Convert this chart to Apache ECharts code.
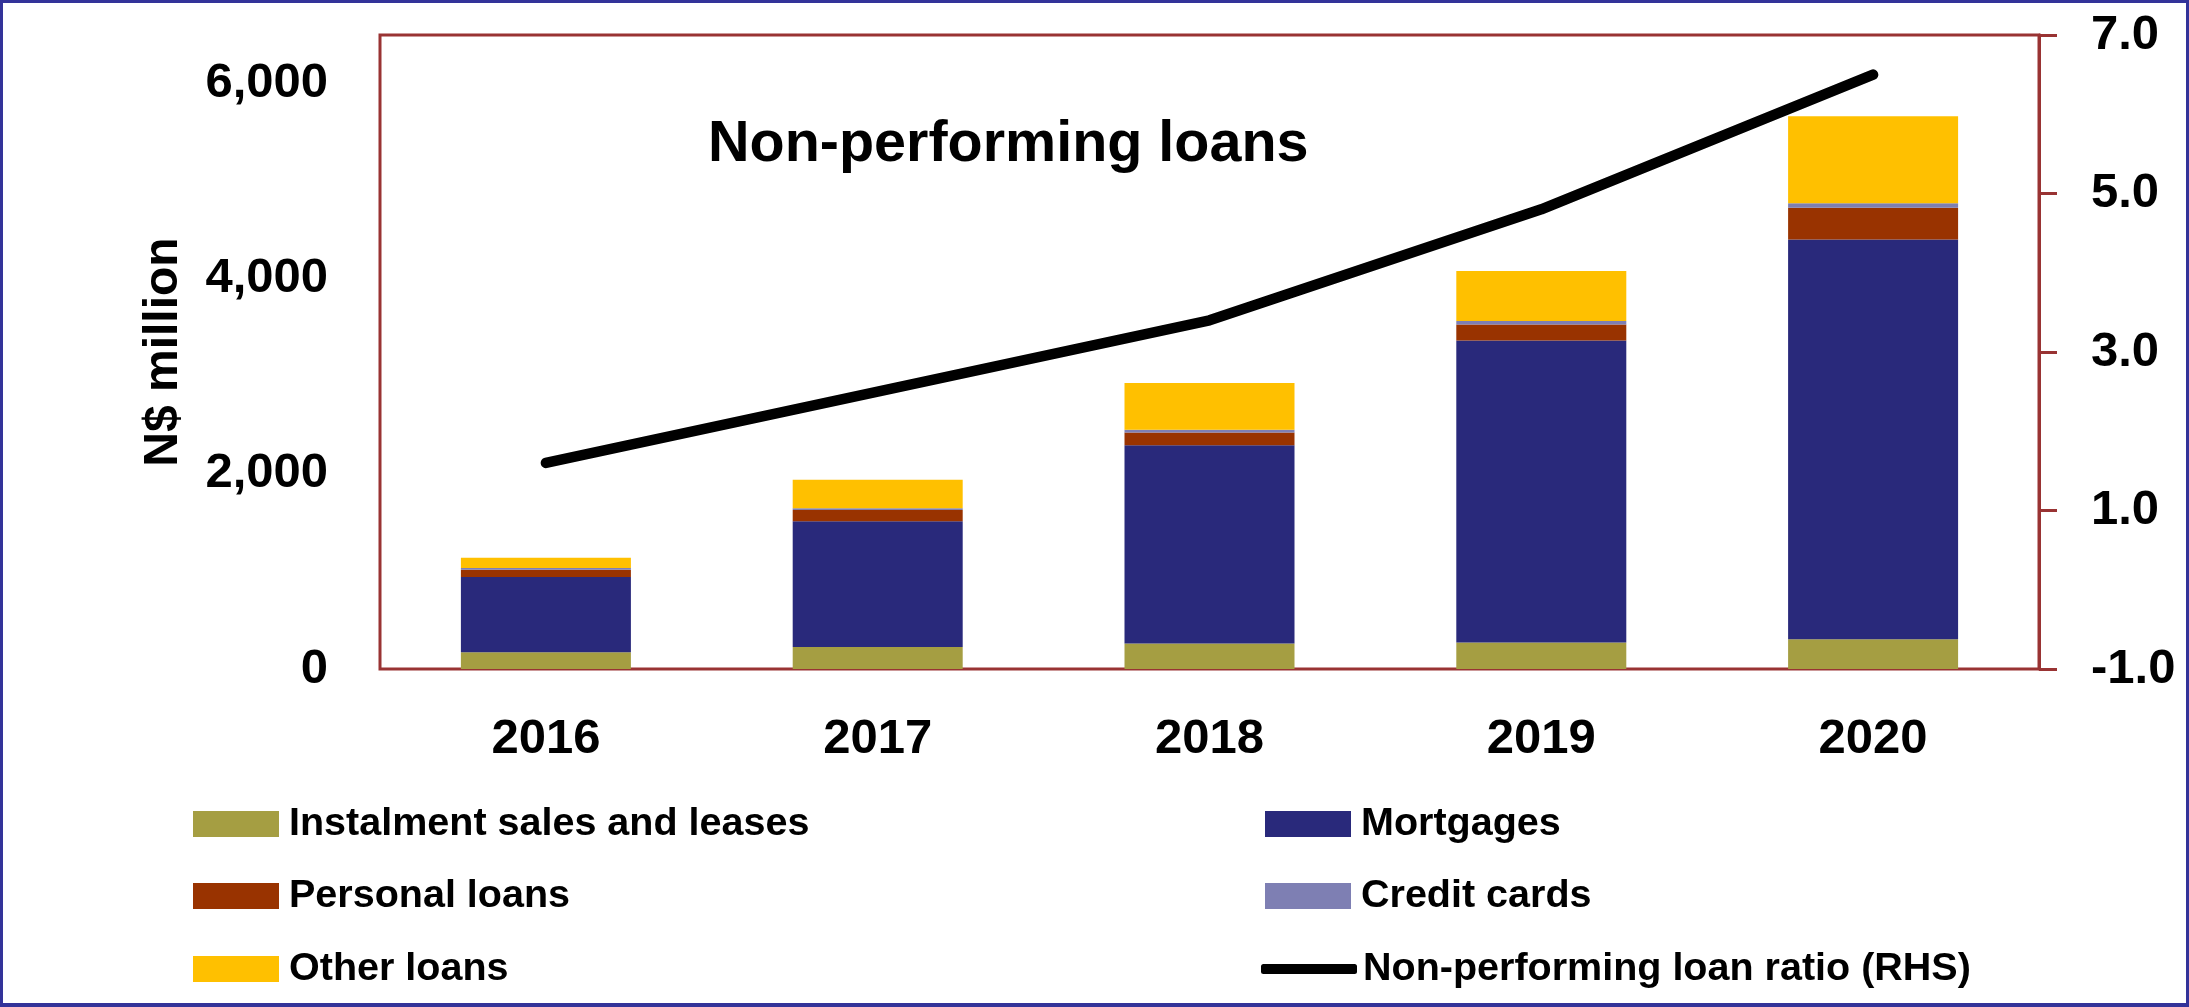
<!DOCTYPE html>
<html style="height: 100%">
<head>
<meta charset="utf-8">
<title>Non-performing loans</title>
<script src="https://cdn.jsdelivr.net/npm/echarts@6/dist/echarts.min.js"></script>
</head>
<body style="height: 100%; margin: 0; background: #fff">
	<div id="container" style="position: absolute; left: 0; top: 0; width: 2189px; height: 1007px"></div>
	<div style="position: absolute; left: 0; top: 0; width: 2189px; height: 1007px; box-sizing: border-box; border: 3px solid #333399; border-bottom-width: 4px; pointer-events: none"></div>
	<script type="text/javascript">
		// data
		var years = ['2016', '2017', '2018', '2019', '2020'];
		var instalment = [171, 226, 262, 271, 304];
		var mortgages = [773, 1289, 2031, 3096, 4100];
		var personal = [73, 114, 132, 164, 325];
		var creditCards = [18, 19, 27, 37, 46];
		var otherLoans = [106, 292, 481, 512, 891];
		var nplRatio = [1.6, 2.5, 3.4, 4.8, 6.5];
		var leftTicks = [0, 2000, 4000, 6000];
		var rightTicks = [-1, 1, 3, 5, 7];

		var myChart = echarts.init(document.getElementById('container'));

		var font = 'Liberation Sans, Arial, sans-serif';
		var frameColor = '#993333';

		// one legend per entry so every row sits where the picture has it
		function legendAt(name, left, top, icon, w, h, gap) {
			return {
				data : [ { name : name, icon : icon } ],
				left : left,
				top : top,
				padding : 0,
				itemWidth : w,
				itemHeight : h,
				selectedMode : false,
				textStyle : {
					fontFamily : font,
					fontWeight : 'bold',
					fontSize : 39.5,
					lineHeight : 40,
					color : '#000',
					padding : [ 0, 0, 0, gap ]
				}
			};
		}

		function barSeries(name, data, color) {
			return {
				name : name,
				type : 'bar',
				stack : 'loans',
				barWidth : 170,
				data : data,
				itemStyle : {
					color : color
				},
				emphasis : {
					disabled : true
				}
			};
		}

		var option = {
			animation : false,
			title : {
				text : 'Non-performing loans',
				left : 708,
				top : 116,
				padding : 0,
				textStyle : {
					fontFamily : font,
					fontWeight : 'bold',
					fontSize : 57.5,
					color : '#000'
				}
			},
			grid : {
				left : 380,
				right : 150,
				top : 35,
				bottom : 338,
				show : true,
				borderColor : frameColor,
				borderWidth : 3,
				backgroundColor : 'transparent'
			},
			xAxis : {
				type : 'category',
				data : years,
				axisLine : { show : false },
				axisTick : { show : false },
				axisLabel : {
					margin : 46,
					fontFamily : font,
					fontWeight : 'bold',
					fontSize : 49,
					color : '#000'
				}
			},
			yAxis : [ {
				type : 'value',
				min : 0,
				max : 6500,
				interval : 2000,
				name : 'N$ million',
				nameLocation : 'middle',
				nameGap : 192,
				nameTextStyle : {
					fontFamily : font,
					fontWeight : 'bold',
					fontSize : 48,
					color : '#000'
				},
				axisLine : { show : false },
				axisTick : { show : false },
				splitLine : { show : false },
				axisLabel : {
					margin : 52,
					fontFamily : font,
					fontWeight : 'bold',
					fontSize : 49,
					color : '#000',
					formatter : function(v) {
						if (leftTicks.indexOf(v) < 0) return '';
						return v.toLocaleString('en-US');
					}
				}
			}, {
				type : 'value',
				position : 'right',
				min : -1,
				max : 7,
				interval : 2,
				axisLine : {
					show : true,
					lineStyle : { color : frameColor, width : 3 }
				},
				axisTick : {
					show : true,
					length : 18,
					lineStyle : { color : frameColor, width : 3 }
				},
				splitLine : { show : false },
				axisLabel : {
					margin : 52,
					fontFamily : font,
					fontWeight : 'bold',
					fontSize : 49,
					color : '#000',
					formatter : function(v) {
						if (rightTicks.indexOf(v) < 0) return '';
						return v.toFixed(1);
					}
				}
			} ],
			legend : [
				legendAt('Instalment sales and leases', 193, 804, 'rect', 86, 26, 5),
				legendAt('Personal loans', 193, 876, 'rect', 86, 26, 5),
				legendAt('Other loans', 193, 949, 'rect', 86, 26, 5),
				legendAt('Mortgages', 1265, 804, 'rect', 86, 26, 5),
				legendAt('Credit cards', 1265, 876, 'rect', 86, 26, 5),
				legendAt('Non-performing loan ratio (RHS)', 1261, 949, 'roundRect', 96, 10, 1)
			],
			series : [
				barSeries('Instalment sales and leases', instalment, '#A59E42'),
				barSeries('Mortgages', mortgages, '#29297B'),
				barSeries('Personal loans', personal, '#993300'),
				barSeries('Credit cards', creditCards, '#7E7FB3'),
				barSeries('Other loans', otherLoans, '#FFC000'),
				{
					name : 'Non-performing loan ratio (RHS)',
					type : 'line',
					yAxisIndex : 1,
					data : nplRatio,
					symbol : 'none',
					z : 5,
					itemStyle : { color : '#000' },
					lineStyle : {
						color : '#000',
						width : 10.5,
						cap : 'round',
						join : 'round'
					},
					emphasis : { disabled : true }
				}
			]
		};

		myChart.setOption(option);
	</script>
</body>
</html>
